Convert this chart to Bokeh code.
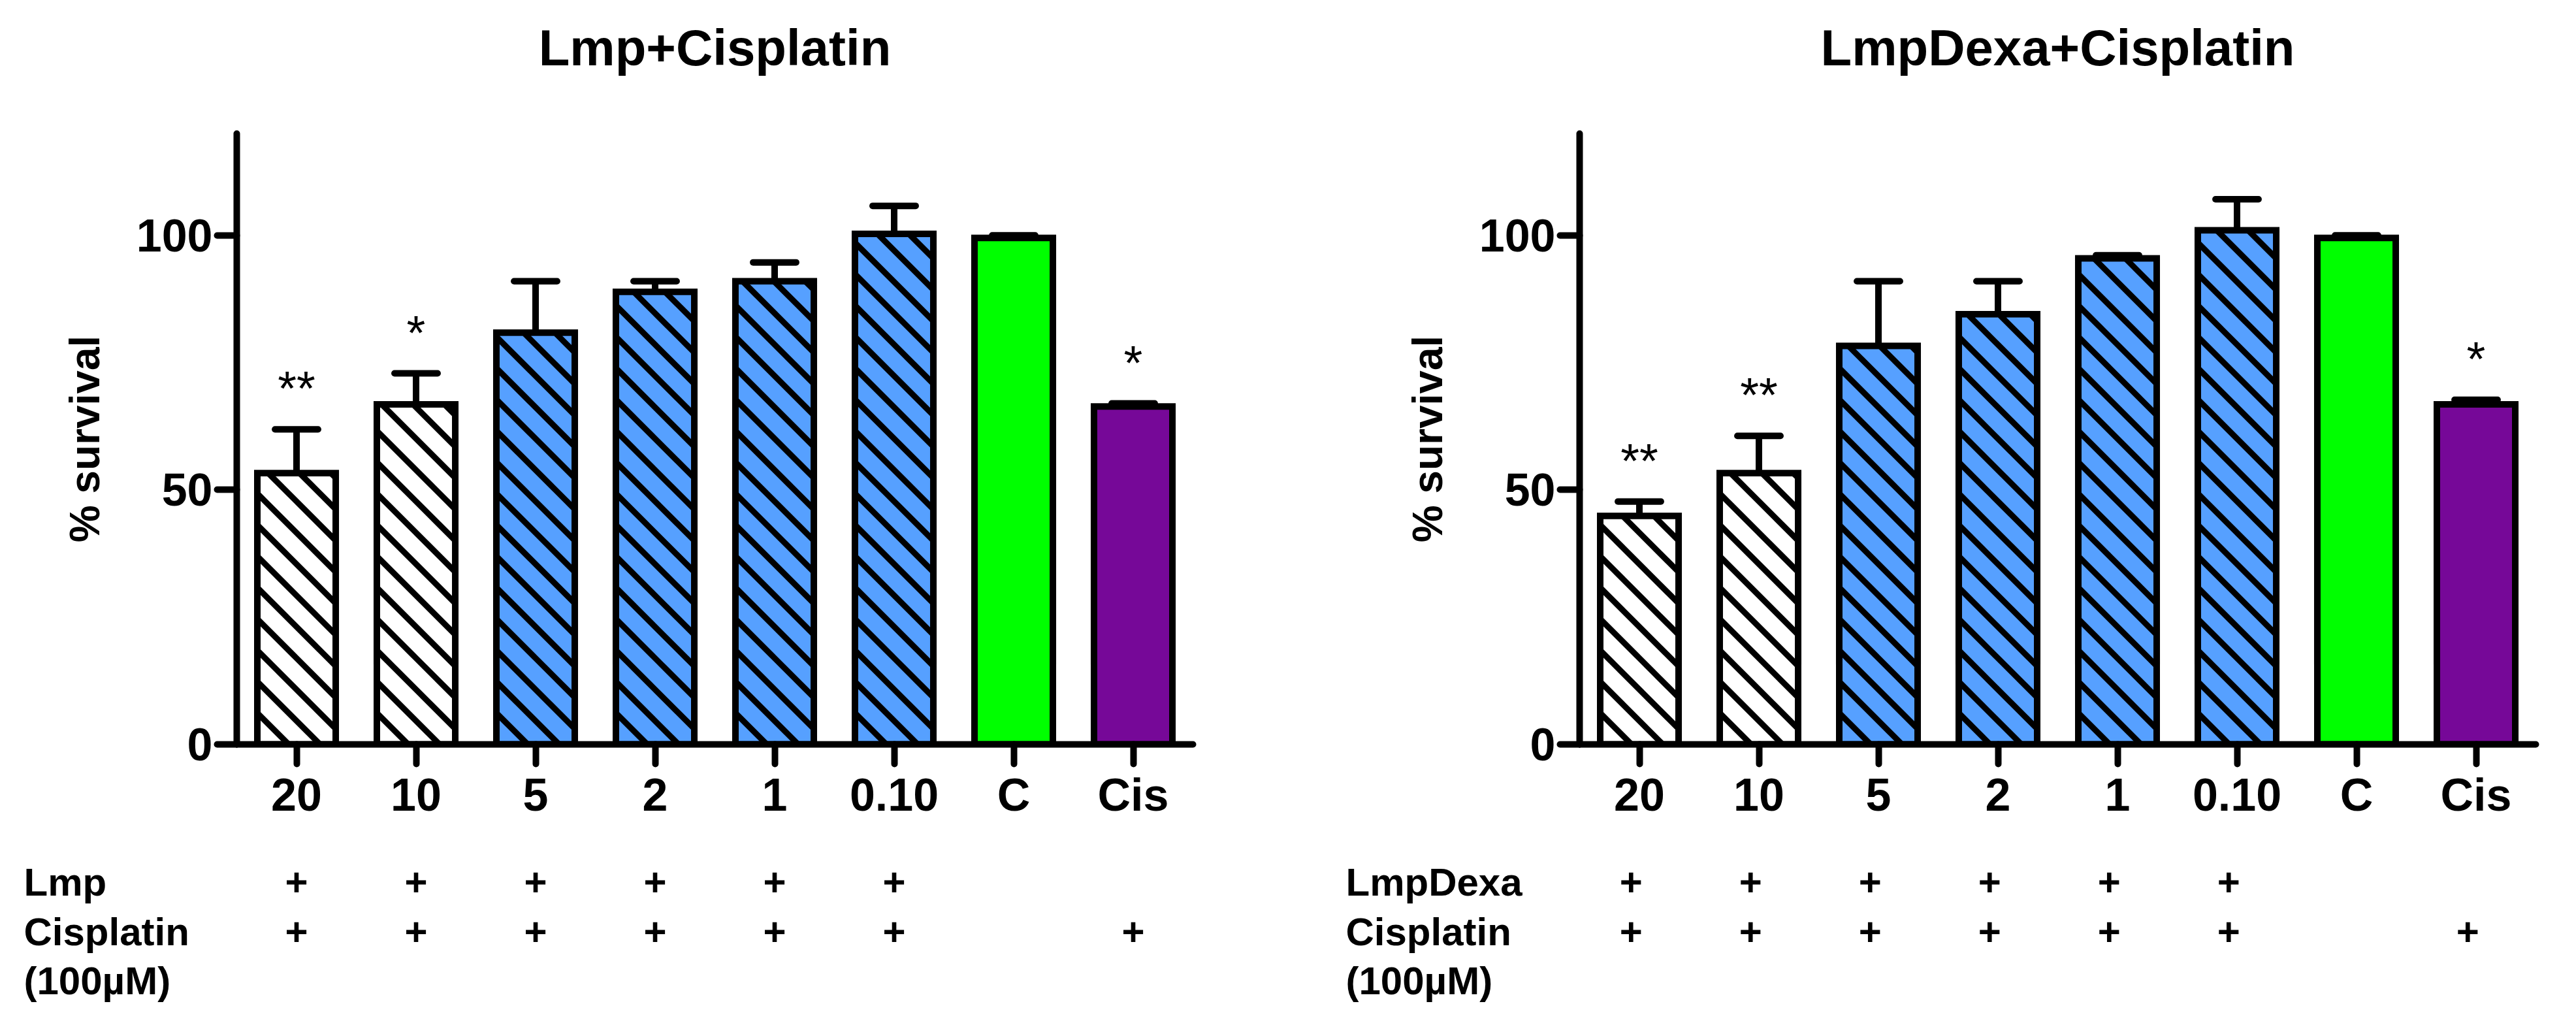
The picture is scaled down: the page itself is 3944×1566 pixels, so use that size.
from bokeh.plotting import figure
from bokeh.models import FactorRange, Range1d, FixedTicker, ColumnDataSource
from bokeh.layouts import row, column
from bokeh.embed import file_html
from bokeh.resources import INLINE
from bokeh.core.properties import value

# ---------------- data ----------------
categories = ["20", "10", "5", "2", "1", "0.10", "C", "Cis"]

lmp_mean = [53.3, 66.8, 80.9, 88.9, 91.0, 100.3, 99.5, 66.4]
lmp_err = [8.6, 6.1, 10.1, 2.1, 3.7, 5.5, 0.5, 0.6]
lmp_stars = ["**", "*", "", "", "", "", "", "*"]

dexa_mean = [44.9, 53.3, 78.3, 84.5, 95.5, 101.0, 99.5, 66.8]
dexa_err = [2.8, 7.3, 12.7, 6.5, 0.6, 6.1, 0.5, 0.9]
dexa_stars = ["**", "**", "", "", "", "", "", "*"]

drug_flags = [1, 1, 1, 1, 1, 1, 0, 0]
cis_flags = [1, 1, 1, 1, 1, 1, 0, 1]
row_names_lmp = ["Lmp", "Cisplatin", "(100\u00b5M)"]
row_names_dexa = ["LmpDexa", "Cisplatin", "(100\u00b5M)"]
titles = ["Lmp+Cisplatin", "LmpDexa+Cisplatin"]

FONT = "Liberation Sans"
WHITE = "#FFFFFF"
BLUE = "#56A0FF"
GREEN = "#00FF00"
PURPLE = "#760898"

Y_MAX = 120
BAR_STEP = 183          # px per category
BAR_W = 0.656           # bar width in category units
FIG_W = 1964
PAGE_TOP = 8
HEAD_BOTTOM = 202       # page y where header ends / chart begins
CHART_BOTTOM = 1300     # page y where chart ends / table begins
PAGE_BOTTOM = 1558
AXIS_Y = 1147           # page y of x axis
FRAME_TOP = 212         # page y of y-axis top
PX_PER_UNIT = (AXIS_Y - FRAME_TOP) / Y_MAX
HATCH_GAP = 48          # px between hatch lines (horizontal)


def page_strip(bl, y_top, y_bottom):
    """Blank figure whose frame is the whole figure; x in category units,
    y in page pixels (downwards)."""
    f = figure(width=FIG_W, height=y_bottom - y_top,
               x_range=Range1d(-bl / BAR_STEP, (FIG_W - bl) / BAR_STEP),
               y_range=Range1d(y_bottom, y_top),
               output_backend="svg", toolbar_location=None,
               x_axis_location=None, y_axis_location=None,
               min_border=0)
    f.outline_line_color = None
    f.xgrid.visible = False
    f.ygrid.visible = False
    f.background_fill_color = "white"
    f.border_fill_color = "white"
    return f


def make_header(title, bl):
    h = page_strip(bl, PAGE_TOP, HEAD_BOTTOM)
    h.text(x=[len(categories) / 2], y=[80], text=[title],
           text_align="center", text_baseline="alphabetic",
           text_font=value(FONT), text_font_size="78px",
           text_font_style="bold", text_color="black")
    return h


def hatch_segments(xc, top):
    """'\\' diagonal hatch lines (45 deg on screen) inside one bar."""
    w_px = BAR_W * BAR_STEP
    h_px = top * PX_PER_UNIT
    left_data = xc - BAR_W / 2
    x0s, y0s, x1s, y1s = [], [], [], []
    k = 1
    while True:
        b = k * HATCH_GAP          # line y = b - x (px, bar-local)
        if b - w_px >= h_px:
            break
        if b <= w_px:
            lx, ly = b, 0.0
        else:
            lx, ly = w_px, b - w_px
        if b <= h_px:
            ux, uy = 0.0, b
        else:
            ux, uy = b - h_px, h_px
        x0s.append(left_data + lx / BAR_STEP)
        y0s.append(ly / PX_PER_UNIT)
        x1s.append(left_data + ux / BAR_STEP)
        y1s.append(uy / PX_PER_UNIT)
        k += 1
    return x0s, y0s, x1s, y1s


def make_chart(means, errs, stars, bl, br):
    p = figure(width=FIG_W, height=CHART_BOTTOM - HEAD_BOTTOM,
               x_range=FactorRange(factors=categories),
               y_range=Range1d(0, Y_MAX),
               output_backend="svg", toolbar_location=None,
               min_border_left=bl, min_border_right=br,
               min_border_top=FRAME_TOP - HEAD_BOTTOM,
               min_border_bottom=CHART_BOTTOM - AXIS_Y)
    p.outline_line_color = None
    p.xgrid.visible = False
    p.ygrid.visible = False
    p.background_fill_color = "white"
    p.border_fill_color = "white"

    for ax in (p.xaxis, p.yaxis):
        ax.axis_line_width = 10
        ax.axis_line_cap = "round"
        ax.major_tick_line_width = 10
        ax.major_tick_line_cap = "round"
        ax.major_tick_out = 30
        ax.major_tick_in = 0
        ax.minor_tick_line_color = None
        ax.major_label_text_font = FONT
        ax.major_label_text_font_size = "70px"
        ax.major_label_text_font_style = "bold"
        ax.major_label_text_color = "black"
    p.xaxis.major_label_standoff = 8
    p.yaxis.major_label_standoff = 7
    p.yaxis.ticker = FixedTicker(ticks=[0, 50, 100])
    p.yaxis.axis_label = "% survival"
    p.yaxis.axis_label_text_font = FONT
    p.yaxis.axis_label_text_font_size = "64px"
    p.yaxis.axis_label_text_font_style = "bold"
    p.yaxis.axis_label_text_color = "black"
    p.yaxis.axis_label_standoff = 40

    xs = [i + 0.5 for i in range(len(categories))]
    tops = [m + e for m, e in zip(means, errs)]
    fills = [WHITE, WHITE] + [BLUE] * 4 + [GREEN, PURPLE]
    hatched = [True] * 6 + [False, False]

    src = ColumnDataSource(dict(cat=categories, top=means, fill=fills))

    # bar fills
    p.vbar(x="cat", top="top", bottom=0, width=BAR_W, source=src,
           fill_color="fill", line_color=None)

    # diagonal hatching
    hx0, hy0, hx1, hy1 = [], [], [], []
    for xc, m, hflag in zip(xs, means, hatched):
        if hflag:
            a, b, c, d = hatch_segments(xc, m)
            hx0 += a
            hy0 += b
            hx1 += c
            hy1 += d
    p.segment(x0=hx0, y0=hy0, x1=hx1, y1=hy1, line_color="black",
              line_width=9)

    # error stems
    p.segment(x0=xs, y0=means, x1=xs, y1=tops, line_color="black",
              line_width=10)

    # bar outlines
    p.vbar(x="cat", top="top", bottom=0, width=BAR_W, source=src,
           fill_color=None, line_color="black", line_width=10,
           line_join="miter")

    # caps
    p.segment(x0=[x - 0.18 for x in xs], y0=tops,
              x1=[x + 0.18 for x in xs], y1=tops,
              line_color="black", line_width=10, line_cap="round")

    # significance stars
    p.text(x=xs, y=[t + 8 for t in tops], text=stars,
           text_align="center", text_baseline="alphabetic",
           text_font=value(FONT), text_font_size="74px",
           text_color="black")
    return p


def make_table(row_names, bl, label_x_px, plus_shift):
    t = page_strip(bl, CHART_BOTTOM, PAGE_BOTTOM)
    row_y = [1358, 1434, 1509]
    lx = label_x_px / BAR_STEP
    t.text(x=[lx] * 3, y=row_y, text=row_names,
           text_align="left", text_baseline="alphabetic",
           text_font=value(FONT), text_font_size="60px",
           text_font_style="bold", text_color="black")
    for flags, ry in ((drug_flags, row_y[0]), (cis_flags, row_y[1])):
        px = [i + 0.5 + plus_shift for i, f in enumerate(flags) if f]
        t.text(x=px, y=[ry] * len(px), text=["+"] * len(px),
               text_align="center", text_baseline="alphabetic",
               text_font=value(FONT), text_font_size="60px",
               text_font_style="bold", text_color="black")
    return t


BL = [362, 454]
BR = [138, 46]

h1 = make_header(titles[0], BL[0])
h2 = make_header(titles[1], BL[1])
p1 = make_chart(lmp_mean, lmp_err, lmp_stars, BL[0], BR[0])
p2 = make_chart(dexa_mean, dexa_err, dexa_stars, BL[1], BR[1])
t1 = make_table(row_names_lmp, BL[0], 44 - 370, 0.0)
t2 = make_table(row_names_dexa, BL[1], 2068 - 2426, -0.07)

layout = column(row(h1, h2), row(p1, p2), row(t1, t2))
open("out.html", "w").write(file_html(layout, INLINE))
